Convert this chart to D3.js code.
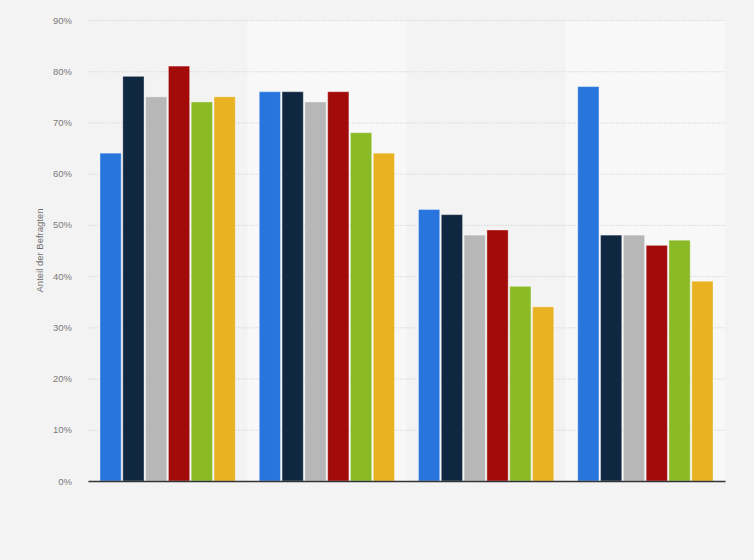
<!DOCTYPE html>
<html>
<head>
<meta charset="utf-8">
<script src="https://cdn.jsdelivr.net/npm/d3@7"></script>
<style>
  html, body { margin: 0; padding: 0; background: #f3f3f3; }
  svg { display: block; font-family: "Liberation Sans", Arial, sans-serif; }
</style>
</head>
<body>
<svg id="chart"></svg>
<script>
const width = 754;
const height = 560;
const marginTop = 20;
const marginRight = 29;
const marginBottom = 79;
const marginLeft = 88;

// groups (no labels shown on the x axis)
const categories = ["g1", "g2", "g3", "g4"];
const seriesKeys = ["s1", "s2", "s3", "s4", "s5", "s6"];
const seriesColors = ["#2876dd", "#0f2741", "#b7b7b7", "#a30b0b", "#8aba25", "#e8b223"];

// values per series, one entry per group (percent)
const s1 = [64, 76, 53, 77];
const s2 = [79, 76, 52, 48];
const s3 = [75, 74, 48, 48];
const s4 = [81, 76, 49, 46];
const s5 = [74, 68, 38, 47];
const s6 = [75, 64, 34, 39];
const seriesValues = [s1, s2, s3, s4, s5, s6];

const yTicks = [0, 10, 20, 30, 40, 50, 60, 70, 80, 90];
const yLabel = "Anteil der Befragten";

const svg = d3.select("#chart")
    .attr("width", width)
    .attr("height", height);

// outer band per group
const x0 = d3.scaleBand()
    .domain(categories)
    .range([marginLeft, width - marginRight])
    .paddingInner(0)
    .paddingOuter(0);

// bars inside one group
const x1 = d3.scaleBand()
    .domain(seriesKeys)
    .range([12, x0.bandwidth() - 12])
    .paddingInner(0.07);

const y = d3.scaleLinear()
    .domain([0, 90])
    .range([height - marginBottom, marginTop]);

// alternating background bands
svg.append("g")
    .selectAll("rect")
    .data(categories.filter((d, i) => i % 2 === 1))
    .join("rect")
    .attr("x", (d) => x0(d))
    .attr("y", y(90))
    .attr("width", x0.bandwidth())
    .attr("height", y(0) - y(90))
    .attr("fill", "#f8f8f8");

// grid lines + tick labels
const yAxis = svg.append("g")
    .attr("transform", `translate(${marginLeft},0)`)
    .call(d3.axisLeft(y)
        .tickValues(yTicks)
        .tickSize(-(width - marginLeft - marginRight))
        .tickPadding(16)
        .tickFormat((d) => d + "%"));
yAxis.select(".domain").remove();
yAxis.selectAll(".tick line")
    .attr("stroke", "#d6d6d6")
    .attr("stroke-dasharray", "1.5,1.5");
yAxis.selectAll(".tick text")
    .attr("fill", "#7a7a7a")
    .style("font-size", "9.5px");

// bars
const groups = svg.append("g")
    .selectAll("g")
    .data(categories)
    .join("g")
    .attr("transform", (d) => `translate(${x0(d)},0)`);

groups.selectAll("rect")
    .data((d, gi) => seriesKeys.map((k, si) => ({ key: k, value: seriesValues[si][gi], color: seriesColors[si] })))
    .join("rect")
    .attr("x", (d) => x1(d.key))
    .attr("y", (d) => y(d.value))
    .attr("width", x1.bandwidth())
    .attr("height", (d) => y(0) - y(d.value))
    .attr("fill", (d) => d.color)
    .attr("stroke", "rgba(255,255,255,0.35)")
    .attr("stroke-width", 1);

// baseline
const xAxis = svg.append("g")
    .attr("transform", `translate(0,${y(0)})`)
    .call(d3.axisBottom(x0).tickSize(0).tickFormat(""));
xAxis.select(".domain")
    .attr("stroke", "#333")
    .attr("stroke-width", 1.5);

// y axis title
svg.append("text")
    .attr("transform", `translate(43,${(y(0) + y(90)) / 2 - 0}) rotate(-90)`)
    .attr("text-anchor", "middle")
    .attr("fill", "#6f6f6f")
    .style("font-size", "9.5px")
    .text(yLabel);
</script>
</body>
</html>
